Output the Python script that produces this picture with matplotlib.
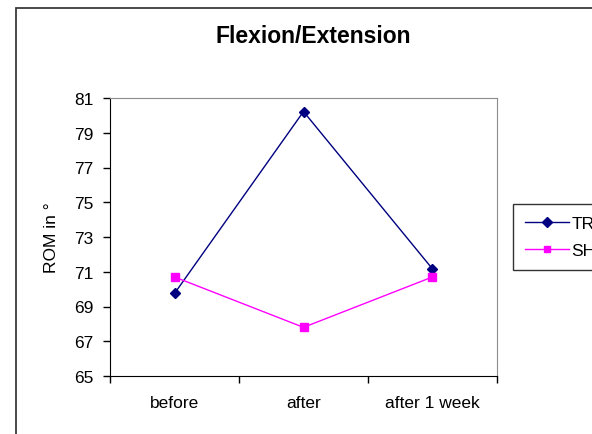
import matplotlib.pyplot as plt
from matplotlib.patches import Rectangle

plt.rcParams['font.family'] = ['Liberation Sans', 'DejaVu Sans']

# 测量时间点与两组的ROM均值
phases = ['before', 'after', 'after 1 week']
tr_rom = [69.75, 80.22, 71.16]
sh_rom = [70.70, 67.80, 70.70]
y_ticks = [65, 67, 69, 71, 73, 75, 77, 79, 81]

fig = plt.figure(figsize=(5.92, 4.35), dpi=100)
fig.patch.set_facecolor('white')

# 外框（右侧和底部超出画面）
fig.patches.append(Rectangle((16 / 592, -0.2), 2.0, 1.2 - 9 / 435, transform=fig.transFigure,
                             fill=False, edgecolor='#3a3a3a', linewidth=1.3, clip_on=False))

ax = fig.add_axes([110 / 592, 1 - 377 / 435, 387 / 592, 278 / 435])
x = range(len(phases))
ax.plot(x, tr_rom, color='#000080', marker='D', markersize=5.5, linewidth=1.0, label='TRT')
ax.plot(x, sh_rom, color='#FF00FF', marker='s', markersize=5.5, linewidth=1.0, label='SHAM')

ax.set_xlim(-0.5, 2.5)
ax.set_ylim(65, 81)
ax.set_yticks(y_ticks)
ax.set_yticklabels([str(v) for v in y_ticks], fontsize=12.5)
ax.set_xticks([-0.5, 0.5, 1.5, 2.5])
ax.set_xticklabels([])
ax.set_xticks(list(x), minor=True)
ax.set_xticklabels(phases, minor=True, fontsize=12.5)
ax.tick_params(axis='x', which='minor', length=0, pad=14)
ax.tick_params(axis='x', which='major', direction='out', length=5, width=1)
ax.tick_params(axis='y', direction='out', length=5, width=1, pad=7)

for side in ['top', 'right']:
    ax.spines[side].set_color('#8c8c8c')
for side in ['left', 'bottom']:
    ax.spines[side].set_color('black')

ax.set_ylabel('ROM in °', fontsize=12.5, labelpad=11)

fig.text(313 / 592, 1 - 43 / 435, 'Flexion/Extension', ha='center', va='baseline',
         fontsize=16.5, fontweight='bold')

leg = ax.legend(loc='upper left', bbox_to_anchor=(513 / 592, 1 - 205 / 435),
                bbox_transform=fig.transFigure, borderaxespad=0, fontsize=12.5,
                fancybox=False, edgecolor='black', handlelength=2.5, handletextpad=0.15,
                labelspacing=0.65, borderpad=0.7, markerscale=0.9)
leg.get_frame().set_linewidth(1.0)

fig.savefig('out.png', dpi=100)
